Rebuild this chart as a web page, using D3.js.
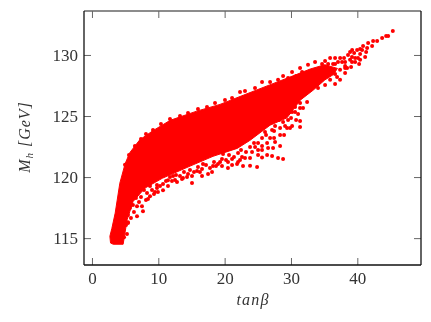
<!DOCTYPE html>
<html><head><meta charset="utf-8">
<script src="https://cdn.jsdelivr.net/npm/d3@7/dist/d3.min.js"></script>
<style>
html,body{margin:0;padding:0;background:#fff}
svg{display:block;filter:blur(0.4px)}
text{font-family:"Liberation Serif","DejaVu Serif",serif;fill:#333}
</style></head><body><svg id="c" width="431" height="322"></svg>
<script>
const xTicks=[0,10,20,30,40];
const yTicks=[115,120,125,130];
const xDomain=[-1.2,49.6];
const yDomain=[112.8,133.6];
// outline of the saturated core of the cloud
const coreTan=[2.7,2.8,3.2,4.7,5.0,5.3,6.2,8.0,10.6,14.8,18.25,21.9,23.8,26.85,29.4,31.4,33.3,35.1,36.4,37.0,35.1,32.9,30.6,26.8,22.8,19.3,15.8,11.8,9.2,7.2,5.7,5.0,4.2,3.5,3.0];
const coreMh=[115.15,114.6,114.5,114.5,115.5,116.5,118.0,119.1,119.9,120.9,121.7,122.35,123.0,124.25,124.85,126.3,127.1,127.95,128.4,128.9,129.2,128.85,128.35,127.55,126.7,125.95,125.4,124.65,123.8,123.05,122.0,121.1,119.5,117.05,115.8];
// separate points around the core: far fringe and tail
const tanBeta=[45.35,44.65,44.34,43.74,42.99,42.38,41.63,42.23,41.48,40.87,40.72,41.33,40.42,39.97,39.22,38.91,39.52,40.42,41.18,40.27,39.67,39.06,38.46,38.16,37.41,36.65,35.9,35.14,35.6,32.43,30.62,31.37,29.86,31.07,30.17,31.37,30.77,31.37,29.86,29.11,28.81,27.6,29.56,28.36,27.45,26.55,26.09,27.45,28.36,27.3,26.4,25.04,24.59,25.64,26.4,27.15,28.05,28.81,23.83,22.62,21.12,19.76,24.89,21.87,21.12,20.51,19.31,18.7,15.08,16.59,17.5,15.84,14.33,12.82,13.57,12.22,10.71,9.8,8.45,9.35,7.69,6.79,5.43,5.28,4.83,11.46,18.25,16.74,
5.13,5.43,5.88,5.73,6.33,6.79,7.09,7.54,7.39,8.14,8.3,8.75,9.05,9.5,9.8,10.26,10.71,11.16,11.76,12.06,12.67,13.27,13.87,14.48,14.78,15.38,15.98,16.59,17.19,17.79,18.4,19.0,19.6,20.21,20.66,21.41,22.02,22.47,23.22,23.83,24.43,25.04,25.64,25.64,26.24,26.85,27.15,27.6,28.36,28.81,29.41,28.2,30.01,30.62,31.37,31.82,
34.08,35.14,35.9,34.84,36.65,37.4,38.16,36.34,38.16,37.09,38.91,39.67,38.6,38.0,40.42,39.2,35.14,33.63,32.57,31.37,30.16,28.81,26.85,25.64,24.58,23.07,22.32,21.12,20.05,18.55,17.34,15.98,14.48,13.27,11.76,10.4,9.2,8.14,7.39,6.48,5.58,4.98,
6.18,5.43,6.63,7.84,8.75,9.95,11.46,12.52,13.72,15.08,16.28,18.1,19.6,20.5,22.32,23.07,24.13,25.04,26.55,27.6,28.96,30.17,25.64,23.83,22.77,22.02,
37.4,36.65,36.95,38.16,39.2,40.1,35.9,37.7,36.65,34.69,34.08,32.88,31.67,30.77,29.56,28.05];
const mh=[131.97,131.56,131.56,131.39,131.15,131.15,130.98,130.74,130.57,130.74,130.41,130.25,130.49,130.41,130.41,130.25,130.16,130.08,129.84,129.26,129.75,129.02,128.93,129.43,129.75,129.75,129.75,129.5,129.26,126.15,125.74,125.66,125.33,125.16,125.33,124.59,124.67,124.1,124.02,124.18,124.51,124.92,124.67,123.44,123.77,124.34,123.69,123.2,122.54,122.38,122.79,122.79,122.46,122.21,121.8,121.72,121.56,121.48,121.56,121.64,121.48,121.89,120.82,121.07,120.98,121.23,121.23,120.9,119.51,120.08,120.25,120.49,120.0,119.59,119.84,120.08,118.93,119.1,118.2,118.61,117.21,116.8,116.23,115.33,115.08,119.75,120.9,121.07,
116.07,116.89,116.64,117.46,117.13,117.62,117.95,117.62,118.36,118.12,118.69,118.44,118.94,118.77,119.35,119.26,119.43,119.67,120.0,119.67,120.17,120.08,120.41,120.25,120.58,120.41,120.82,120.66,120.99,120.74,121.23,121.07,121.48,121.4,121.81,121.64,121.97,122.22,122.05,122.46,122.79,122.22,122.54,123.2,123.45,123.2,123.86,124.18,124.02,124.92,124.02,124.68,124.84,125.33,126.07,125.66,
127.3,127.55,127.96,128.37,128.45,128.78,128.53,129.27,129.1,129.43,129.6,129.43,130.0,129.76,129.6,129.84,129.02,129.43,129.19,128.94,128.61,128.28,127.79,127.79,127.3,127.05,126.97,126.48,126.32,126.07,125.74,125.58,125.25,125.0,124.76,124.35,123.86,123.53,123.12,122.54,121.81,121.0,
117.71,116.31,118.28,118.94,119.26,118.77,119.26,119.76,119.92,120.08,120.41,120.41,120.9,120.74,121.4,121.56,122.05,121.8,122.38,122.87,123.45,124.18,121.6,120.93,120.9,121.23,
127.96,127.63,128.2,128.94,129.43,129.76,128.61,129.43,129.27,129.27,128.78,128.61,128.61,128.28,128.12,127.96];

const svg=d3.select("#c");
const x=d3.scaleLinear().domain(xDomain).range([84,421]);
const y=d3.scaleLinear().domain(yDomain).range([265,11]);

const line=d3.line().x(d=>x(d[0])).y(d=>y(d[1])).curve(d3.curveLinearClosed);
svg.append("path").attr("d",line(d3.zip(coreTan,coreMh))).attr("fill","#f00").attr("stroke","#f00").attr("stroke-width",1);
svg.append("g").selectAll("circle").data(d3.zip(tanBeta,mh)).join("circle")
  .attr("cx",d=>x(d[0])).attr("cy",d=>y(d[1])).attr("r",2).attr("fill","#f00");

function axis(gen,tx,ty,labels){
  const g=svg.append("g").attr("transform",`translate(${tx},${ty})`).call(gen);
  g.select(".domain").remove();
  g.selectAll("line").attr("stroke","#666").attr("stroke-width",1);
  if(labels) g.selectAll("text").attr("font-size",17).attr("fill","#333");
  return g;
}
axis(d3.axisBottom(x).tickValues(xTicks).tickSize(-7).tickPadding(7),0,265,true);
axis(d3.axisTop(x).tickValues(xTicks).tickSize(-7).tickFormat(""),0,11,false);
axis(d3.axisLeft(y).tickValues(yTicks).tickSize(-7).tickPadding(6),84,0,true);
axis(d3.axisRight(y).tickValues(yTicks).tickSize(-7).tickFormat(""),421,0,false);

svg.append("line").attr("x1",84).attr("x2",421).attr("y1",11).attr("y2",11).attr("stroke","#666").attr("stroke-width",1.5);
svg.append("line").attr("x1",84).attr("x2",421).attr("y1",265).attr("y2",265).attr("stroke","#111").attr("stroke-width",1.3);
svg.append("line").attr("x1",84).attr("x2",84).attr("y1",11).attr("y2",265).attr("stroke","#111").attr("stroke-width",1.3);
svg.append("line").attr("x1",421).attr("x2",421).attr("y1",11).attr("y2",265).attr("stroke","#111").attr("stroke-width",1.3);

svg.append("text").attr("x",253).attr("y",305).attr("text-anchor","middle").attr("font-size",16).attr("font-style","italic").attr("letter-spacing",1.2).text("tanβ");
const yl=svg.append("text").attr("transform","translate(30,137) rotate(-90)").attr("text-anchor","middle").attr("font-size",16).attr("font-style","italic").attr("letter-spacing",1);
yl.append("tspan").text("M");
yl.append("tspan").attr("dy",3).attr("font-size",11).text("h");
yl.append("tspan").attr("dy",-3).attr("dx",5).text("[GeV]");
</script></body></html>
